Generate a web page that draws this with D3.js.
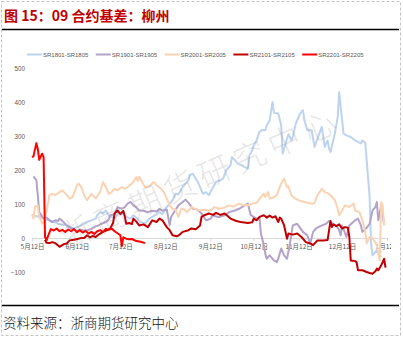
<!DOCTYPE html>
<html>
<head>
<meta charset="utf-8">
<script src="https://cdn.jsdelivr.net/npm/d3@7"></script>
<style>
  body { margin: 0; background: #fff; }
  svg { display: block; }
</style>
</head>
<body>
<svg id="chart" width="403" height="337"></svg>
<script>
// Liuzhou sugar basis for the September contracts, one line per season (MM-DD, yuan/t)
const seriesNames = ["SR1801-SR1805", "SR1901-SR1905", "SR2001-SR2005", "SR2101-SR2105", "SR2201-SR2205"];
const seriesColors = ["#bdd3ef", "#b3a2c9", "#fcd3b2", "#c00000", "#ff0000"];

const sr1801 = [["05-14",65],["05-18",62],["05-21",55],["05-24",52],["05-27",48],["05-30",42],["06-02",40],["06-05",37],["06-08",28],["06-11",30],["06-14",35],["06-16",42],["06-19",47],["06-22",52],["06-25",57],["06-26",67],["06-28",76],["06-30",72],["07-02",81],["07-04",66],["07-06",62],["07-08",57],["07-11",76],["07-13",72],["07-15",67],["07-17",60],["07-19",57],["07-21",67],["07-23",60],["07-26",47],["07-29",42],["08-01",57],["08-05",67],["08-08",76],["08-10",70],["08-12",86],["08-14",96],["08-17",111],["08-19",130],["08-21",128],["08-24",150],["08-26",160],["08-28",170],["08-29",185],["08-31",189],["09-02",175],["09-04",160],["09-07",130],["09-09",135],["09-11",126],["09-14",150],["09-16",165],["09-19",170],["09-21",175],["09-23",199],["09-26",214],["09-27",238],["09-29",229],["10-01",219],["10-05",211],["10-08",204],["10-09",243],["10-11",258],["10-12",273],["10-14",287],["10-16",312],["10-18",318],["10-20",317],["10-21",331],["10-23",346],["10-25",400],["10-26",368],["10-29",366],["10-31",331],["11-01",248],["11-03",278],["11-05",305],["11-07",287],["11-08",297],["11-10",336],["11-13",366],["11-15",376],["11-16",346],["11-18",317],["11-21",317],["11-23",268],["11-25",292],["11-28",327],["11-30",268],["12-02",287],["12-03",263],["12-04",253],["12-07",307],["12-09",356],["12-10",429],["12-13",307],["12-15",302],["12-18",297],["12-21",287],["12-23",283],["12-25",278],["12-26",287],["12-28",280],["12-31",121],["01-01",-16],["01-02",-51],["01-05",-36],["01-06",-46],["01-08",-56]];

const sr1901 = [["05-13",181],["05-15",170],["05-16",126],["05-17",76],["05-20",57],["05-22",60],["05-24",52],["05-26",47],["05-28",52],["05-30",50],["05-31",57],["06-02",50],["06-05",37],["06-07",32],["06-09",28],["06-12",20],["06-14",25],["06-16",23],["06-19",22],["06-22",27],["06-25",35],["06-27",37],["06-29",42],["07-02",47],["07-04",55],["07-05",67],["07-08",70],["07-10",91],["07-13",86],["07-15",91],["07-17",101],["07-19",106],["07-21",96],["07-23",90],["07-25",81],["07-28",80],["07-31",76],["08-03",80],["08-06",78],["08-08",86],["08-10",80],["08-13",84],["08-15",37],["08-16",62],["08-18",76],["08-21",96],["08-24",106],["08-26",113],["08-29",98],["08-31",86],["09-03",84],["09-06",72],["09-09",52],["09-12",56],["09-14",67],["09-16",63],["09-18",62],["09-22",67],["09-25",76],["09-29",81],["10-02",86],["10-06",96],["10-08",101],["10-10",67],["10-14",57],["10-16",60],["10-17",13],["10-19",-21],["10-20",-46],["10-21",-61],["10-23",-51],["10-26",-66],["10-28",-71],["10-29",-60],["10-31",-31],["11-02",-51],["11-04",-61],["11-06",-16],["11-08",37],["11-11",42],["11-13",30],["11-15",18],["11-18",8],["11-20",-16],["11-22",18],["11-24",28],["11-27",35],["12-01",42],["12-03",50],["12-06",40],["12-08",37],["12-10",23],["12-11",8],["12-12",37],["12-15",3],["12-17",37],["12-21",52],["12-23",57],["12-25",37],["12-26",18],["12-29",30],["12-31",42],["01-02",81],["01-04",91],["01-05",106],["01-06",52],["01-08",96],["01-10",40]];

const sr2001 = [["05-12",70],["05-13",57],["05-14",91],["05-16",96],["05-17",62],["05-19",42],["05-20",45],["05-22",76],["05-24",126],["05-26",130],["05-28",126],["05-31",135],["06-02",140],["06-05",126],["06-07",116],["06-09",120],["06-12",155],["06-13",160],["06-15",150],["06-17",126],["06-19",111],["06-22",130],["06-25",116],["06-28",135],["06-30",165],["07-02",150],["07-04",130],["07-06",135],["07-08",145],["07-10",140],["07-13",150],["07-15",145],["07-17",150],["07-20",160],["07-22",172],["07-23",180],["07-24",168],["07-25",180],["07-27",165],["07-29",150],["08-01",152],["08-04",165],["08-06",155],["08-09",145],["08-11",135],["08-13",116],["08-15",96],["08-17",86],["08-19",84],["08-21",62],["08-23",86],["08-25",84],["08-27",76],["08-30",91],["09-04",81],["09-08",83],["09-12",80],["09-15",91],["09-18",86],["09-21",88],["09-25",96],["09-28",92],["10-02",101],["10-05",96],["10-08",96],["10-11",101],["10-14",103],["10-17",121],["10-19",130],["10-20",121],["10-22",135],["10-23",116],["10-26",120],["10-28",126],["10-30",150],["10-31",160],["11-02",175],["11-04",150],["11-05",152],["11-07",126],["11-10",115],["11-12",111],["11-14",108],["11-16",106],["11-18",104],["11-21",101],["11-23",103],["11-25",126],["11-28",145],["11-30",135],["12-02",132],["12-04",126],["12-07",111],["12-09",86],["12-10",67],["12-12",81],["12-14",96],["12-17",91],["12-20",101],["12-21",81],["12-24",76],["12-26",52],["12-28",18],["12-29",-16],["12-31",3],["01-02",0],["01-05",-21],["01-06",-46],["01-07",-66],["01-08",106],["01-09",96],["01-10",37]];

const sr2101 = [["05-21",-5],["05-22",-14],["05-24",-15],["05-26",-12],["05-28",-15],["05-31",-26],["06-03",-18],["06-05",-16],["06-07",-7],["06-10",-5],["06-13",-2],["06-15",0],["06-17",0],["06-19",8],["06-21",2],["06-23",6],["06-25",3],["06-27",10],["06-30",18],["07-03",23],["07-05",28],["07-07",45],["07-08",72],["07-10",81],["07-12",70],["07-14",80],["07-15",65],["07-16",42],["07-18",44],["07-20",41],["07-21",57],["07-23",48],["07-25",37],["07-28",40],["07-31",32],["08-03",52],["08-06",47],["08-08",57],["08-10",52],["08-13",32],["08-15",23],["08-17",8],["08-20",5],["08-22",10],["08-24",18],["08-28",23],["08-30",28],["09-02",26],["09-05",37],["09-06",62],["09-08",67],["09-11",72],["09-14",68],["09-16",74],["09-19",68],["09-22",72],["09-26",57],["09-30",50],["10-03",47],["10-08",44],["10-11",46],["10-12",57],["10-14",52],["10-16",62],["10-19",67],["10-21",60],["10-23",66],["10-25",60],["10-27",64],["10-29",47],["10-30",60],["10-31",57],["11-02",37],["11-04",-2],["11-05",13],["11-08",10],["11-11",13],["11-14",3],["11-17",-12],["11-20",-16],["11-22",-21],["11-25",-7],["11-29",-7],["12-02",-6],["12-04",50],["12-05",32],["12-06",40],["12-08",35],["12-10",40],["12-12",28],["12-14",32],["12-16",30],["12-17",3],["12-18",-66],["12-21",-68],["12-22",-71],["12-23",-95],["12-26",-95],["12-29",-100],["12-31",-103],["01-02",-105],["01-04",-98],["01-05",-90],["01-06",-95],["01-08",-80],["01-09",-71],["01-10",-61],["01-11",-87]];

const sr2201 = [["05-12",238],["05-13",240],["05-15",279],["05-16",262],["05-17",230],["05-19",248],["05-20",238],["05-21",3],["05-22",-7],["05-23",5],["05-25",26],["05-27",22],["05-29",28],["05-31",20],["06-02",24],["06-04",18],["06-06",25],["06-08",20],["06-10",26],["06-12",17],["06-14",23],["06-16",16],["06-18",21],["06-20",13],["06-22",18],["06-24",12],["06-26",20],["06-28",23],["06-30",18],["07-02",27],["07-04",24],["07-06",28],["07-08",20],["07-10",14],["07-12",8],["07-13",-24],["07-14",2],["07-16",-2],["07-18",-4],["07-20",-3],["07-23",-9],["07-26",-11],["07-29",-15]];

const seriesData = [sr1801, sr1901, sr2001, sr2101, sr2201];
const yTicks = [-100, 0, 100, 200, 300, 400, 500];
const xTickDates = ["05-12", "06-12", "07-12", "08-12", "09-12", "10-12", "11-12", "12-12", "01-12"];

const titleText = "图 15：09 合约基差：柳州";
const sourceText = "资料来源：浙商期货研究中心";
const watermarkText = "浙商期货研究中心";

// Season runs May to the following January
const parseDay = s => {
  const [m, d] = s.split("-").map(Number);
  return new Date(m < 5 ? 2021 : 2020, m - 1, d);
};

const svg = d3.select("#chart");
const W = 403, H = 337;
const cjk = "'Noto Sans CJK SC', 'Noto Sans', sans-serif";
const latin = "'Liberation Sans', Arial, sans-serif";

// page frame
svg.append("rect")
  .attr("x", 1.5).attr("y", 1.5).attr("width", 399).attr("height", 334)
  .attr("fill", "none").attr("stroke", "#c4c4c4").attr("stroke-dasharray", "3,2");

// heading and rule
svg.append("text")
  .attr("x", 4).attr("y", 21)
  .attr("font-family", cjk).attr("font-size", 14).attr("font-weight", "bold")
  .attr("fill", "#c00000")
  .text(titleText);
svg.append("line")
  .attr("x1", 2).attr("x2", 399).attr("y1", 29.5).attr("y2", 29.5)
  .attr("stroke", "#000").attr("stroke-width", 1.5);

// scales
const x = d3.scaleTime()
  .domain([parseDay(xTickDates[0]), parseDay(xTickDates[xTickDates.length - 1])])
  .range([32, 387]);
const y = d3.scaleLinear().domain([-100, 500]).range([272, 68]);

// legend
const legend = svg.append("g").attr("font-family", latin).attr("font-size", 6).attr("fill", "#595959");
seriesNames.forEach((name, i) => {
  const lx = 27 + i * 68.8;
  legend.append("line")
    .attr("x1", lx).attr("x2", lx + 15).attr("y1", 54.5).attr("y2", 54.5)
    .attr("stroke", seriesColors[i]).attr("stroke-width", 2);
  legend.append("text")
    .attr("x", lx + 16).attr("y", 54.5).attr("dominant-baseline", "central")
    .text(name);
});

// value labels
const yAxis = d3.axisLeft(y).tickValues(yTicks).tickSize(0).tickPadding(0);
const yg = svg.append("g").attr("transform", "translate(25,0)").call(yAxis);
yg.select(".domain").remove();
yg.selectAll("text")
  .attr("font-family", latin).attr("font-size", 6.3).attr("fill", "#595959");

// date axis on the zero line
svg.append("clipPath").attr("id", "plotClip")
  .append("rect").attr("x", 0).attr("y", 0).attr("width", 391).attr("height", H);
const xAxis = d3.axisBottom(x)
  .tickValues(xTickDates.map(parseDay))
  .tickFormat(d => `${d.getMonth() + 1}月${d.getDate()}日`)
  .tickSize(3).tickSizeOuter(0).tickPadding(3);
const xg = svg.append("g")
  .attr("transform", `translate(0,${y(0)})`)
  .attr("clip-path", "url(#plotClip)")
  .call(xAxis);
xg.select(".domain").attr("stroke", "#d9d9d9").attr("stroke-width", 1);
xg.selectAll(".tick line").attr("stroke", "#d9d9d9");
xg.selectAll("text")
  .attr("font-family", cjk).attr("font-size", 6.5).attr("fill", "#595959");

// series lines
const line = d3.line()
  .x(d => x(parseDay(d[0])))
  .y(d => y(d[1]));
seriesData.forEach((data, i) => {
  svg.append("path")
    .datum(data)
    .attr("d", line)
    .attr("fill", "none")
    .attr("stroke", seriesColors[i])
    .attr("stroke-width", 2)
    .attr("stroke-linejoin", "round");
});

// watermark
svg.append("text")
  .attr("transform", "translate(199,176) rotate(-23.5)")
  .attr("text-anchor", "middle").attr("dominant-baseline", "central")
  .attr("font-family", cjk).attr("font-size", 32).attr("font-weight", 300)
  .attr("letter-spacing", 6)
  .attr("fill", "#8a8a8a").attr("fill-opacity", 0.22)
  .text(watermarkText);

// source note and rule
svg.append("line")
  .attr("x1", 2).attr("x2", 399).attr("y1", 305.5).attr("y2", 305.5)
  .attr("stroke", "#000").attr("stroke-width", 1.5);
svg.append("text")
  .attr("x", 3).attr("y", 328)
  .attr("font-family", cjk).attr("font-size", 13.5).attr("font-weight", 300)
  .attr("fill", "#111")
  .text(sourceText);
</script>
</body>
</html>
